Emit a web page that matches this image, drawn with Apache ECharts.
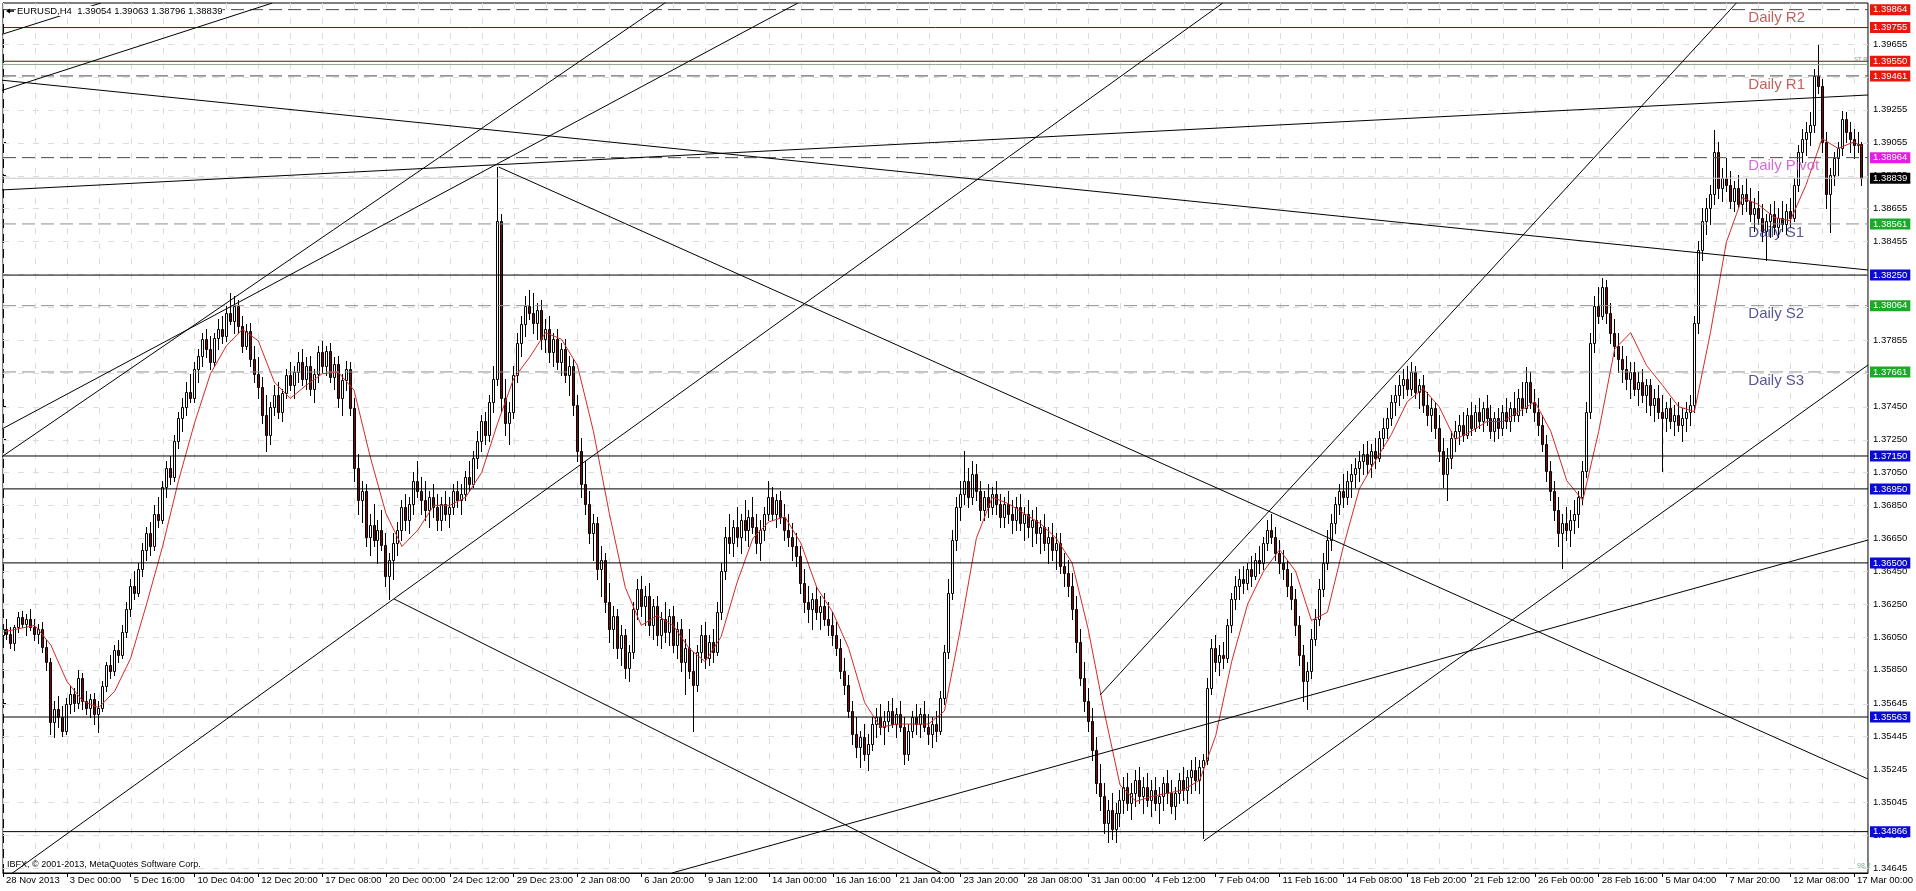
<!DOCTYPE html>
<html><head><meta charset="utf-8">
<script src="https://cdn.jsdelivr.net/npm/echarts@6/dist/echarts.min.js"></script>
<style>html,body{margin:0;padding:0;background:#fff;}#c{width:1916px;height:891px;}</style>
</head><body><div id="c"></div>
<script>
// ---------- DATA ----------
// H4 bars, [open, high, low, close] in pips above 1.3000 (1 pip = 0.0001)
const ohlc = [
[606,613,600,610],[610,616,604,607],[607,611,598,601],[601,612,597,611],[611,620,608,617],[617,621,611,613],[613,619,606,616],[616,622,609,611],
[611,616,603,607],[607,613,601,610],[610,614,596,599],[599,603,585,590],[590,592,546,553],[553,566,544,561],[561,569,550,556],[556,563,545,548],
[548,568,546,564],[564,575,559,570],[570,574,560,565],[565,585,562,580],[580,583,561,566],[566,572,558,562],[562,570,556,567],[567,571,552,558],
[558,566,547,562],[562,578,560,575],[575,590,572,588],[588,594,580,584],[584,600,582,597],[597,603,590,594],[594,612,592,608],[608,626,605,622],
[622,640,618,636],[636,645,628,632],[632,650,630,646],[646,662,642,658],[658,672,652,668],[668,675,655,660],[660,685,658,680],[680,690,672,676],
[676,700,674,696],[696,712,690,708],[708,715,698,702],[702,728,700,724],[724,742,720,738],[738,750,730,745],[745,760,740,754],[754,765,748,750],
[750,772,748,768],[768,780,760,776],[776,790,770,786],[786,792,775,780],[780,788,768,772],[772,790,770,787],[787,798,780,792],[792,800,784,788],
[788,806,785,802],[802,814,795,797],[797,812,790,806],[806,810,790,794],[794,800,778,782],[782,795,780,791],[791,796,770,774],[774,782,760,765],
[765,775,750,757],[757,763,735,740],[740,752,718,728],[728,748,722,745],[745,758,740,752],[752,760,738,742],[742,756,736,753],[753,768,750,764],
[764,772,755,758],[758,770,750,766],[766,778,760,772],[772,780,758,762],[762,775,756,770],[770,776,752,756],[756,768,748,765],[765,782,760,778],
[778,785,766,770],[770,782,764,779],[779,784,760,763],[763,775,756,771],[771,776,745,750],[750,765,740,761],[761,773,755,768],[768,772,740,744],
[744,750,700,708],[708,716,680,688],[688,700,675,694],[694,698,660,666],[666,680,655,673],[673,686,660,664],[664,676,650,670],[670,682,658,661],
[661,668,636,642],[642,656,628,652],[652,668,640,662],[662,675,655,670],[670,688,664,684],[684,692,670,676],[676,690,668,686],[686,705,680,700],
[700,712,690,694],[694,702,680,688],[688,700,676,682],[682,694,672,690],[690,698,678,684],[684,692,670,676],[676,690,670,686],[686,694,676,680],
[680,690,672,684],[684,698,680,694],[694,700,684,688],[688,698,680,692],[692,706,688,702],[702,712,694,698],[698,718,696,714],[714,730,708,724],
[724,740,718,736],[736,742,722,728],[728,752,724,748],[748,770,742,762],[762,891,758,858],[858,862,742,750],[750,762,728,735],[735,748,722,742],
[742,770,738,764],[764,790,760,784],[784,800,776,795],[795,812,788,806],[806,816,798,802],[802,814,790,796],[796,808,786,804],[804,810,780,786],
[786,798,778,792],[792,800,772,778],[778,790,770,786],[786,792,768,772],[772,784,764,780],[780,786,760,764],[764,776,752,770],[770,774,740,746],
[746,752,712,718],[718,726,690,698],[698,712,680,686],[686,694,662,668],[668,680,652,674],[674,678,640,646],[646,660,630,652],[652,656,620,626],
[626,638,602,610],[610,624,598,618],[618,622,592,598],[598,612,588,606],[606,610,580,586],[586,600,578,596],[596,626,592,622],[622,640,616,634],
[634,642,618,624],[624,636,612,630],[630,638,606,612],[612,628,604,624],[624,630,600,606],[606,620,598,616],[616,626,602,608],[608,622,600,618],
[618,624,596,600],[600,614,592,610],[610,616,584,590],[590,604,570,598],[598,610,580,584],[584,596,548,576],[576,600,572,596],[596,612,590,606],
[606,614,586,592],[592,606,588,602],[602,610,590,596],[596,626,594,620],[620,650,616,645],[645,672,640,666],[666,680,656,662],[662,676,654,672],
[672,684,660,666],[666,680,656,676],[676,688,664,670],[670,682,660,678],[678,690,668,672],[672,680,656,662],[662,676,652,670],[670,684,664,680],
[680,700,676,690],[690,696,676,680],[680,692,672,688],[688,694,674,678],[678,686,664,670],[670,680,660,666],[666,674,652,660],[660,668,648,654],
[654,660,632,638],[638,646,620,626],[626,636,614,622],[622,632,610,628],[628,636,616,620],[620,630,610,624],[624,632,612,616],[616,626,606,612],
[612,620,600,606],[606,614,594,598],[598,604,580,584],[584,592,570,576],[576,582,556,560],[560,566,540,546],[546,556,532,538],[538,548,526,544],
[544,552,530,534],[534,546,524,540],[540,556,536,552],[552,562,544,556],[556,564,546,550],[550,560,540,554],[554,566,548,560],[560,568,550,552],
[552,562,544,558],[558,566,548,550],[550,556,528,534],[534,552,530,548],[548,560,544,556],[556,564,546,552],[552,562,544,558],[558,566,548,550],
[550,558,540,546],[546,556,538,552],[552,560,542,548],[548,572,546,568],[568,600,564,596],[596,640,592,632],[632,670,628,664],[664,690,658,684],
[684,700,676,692],[692,718,686,700],[700,708,684,690],[690,712,686,704],[704,710,688,694],[694,700,676,682],[682,694,676,690],[690,698,678,684],
[684,696,680,692],[692,700,680,686],[686,692,672,678],[678,690,672,686],[686,694,674,680],[680,688,668,676],[676,690,670,684],[684,692,670,674],
[674,684,664,680],[680,688,666,672],[672,682,660,676],[676,684,662,668],[668,676,656,672],[672,680,658,662],[662,672,650,666],[666,674,652,658],
[658,668,646,662],[662,668,644,648],[648,656,636,644],[644,652,630,636],[636,644,616,622],[622,630,596,602],[602,610,576,580],[580,590,560,566],
[566,574,548,554],[554,562,530,536],[536,544,510,516],[516,528,500,508],[508,516,486,492],[492,506,480,500],[500,510,482,488],[488,504,480,498],
[498,512,490,506],[506,520,498,514],[514,522,500,504],[504,516,494,510],[510,524,502,518],[518,526,504,508],[508,520,498,514],[514,522,502,506],
[506,518,496,512],[512,520,500,504],[504,514,492,508],[508,520,500,516],[516,524,504,510],[510,518,498,502],[502,514,494,510],[510,522,504,518],
[518,526,506,512],[512,524,504,520],[520,530,510,524],[524,532,512,518],[518,530,510,526],[526,534,483,530],[530,580,528,574],[574,604,570,598],
[598,606,584,590],[590,600,582,594],[594,602,586,592],[592,616,590,612],[612,632,608,628],[628,642,622,636],[636,646,628,640],[640,648,632,638],
[638,650,634,646],[646,654,636,642],[642,656,640,652],[652,660,644,650],[650,666,646,662],[662,676,658,670],[670,680,662,666],[666,672,652,656],
[656,664,644,650],[650,658,640,646],[646,652,630,636],[636,644,622,628],[628,634,606,612],[612,618,588,594],[594,600,566,578],[578,590,561,584],
[584,610,580,604],[604,622,600,616],[616,640,612,634],[634,656,630,650],[650,670,646,664],[664,680,658,674],[674,690,668,686],[686,698,680,694],
[694,704,684,690],[690,706,686,700],[700,710,690,704],[704,714,696,708],[708,718,700,712],[712,722,704,716],[716,724,704,710],[710,722,702,718],
[718,726,708,714],[714,730,712,726],[726,738,720,732],[732,744,726,738],[738,752,734,748],[748,758,740,752],[752,764,746,758],[758,768,750,762],
[762,770,752,756],[756,772,752,766],[766,770,750,754],[754,762,744,758],[758,764,742,746],[746,754,734,740],[740,750,730,744],[744,748,726,732],
[732,740,712,718],[718,726,696,704],[704,720,688,714],[714,730,708,726],[726,736,718,730],[730,740,722,734],[734,742,724,728],[728,744,726,740],
[740,748,728,732],[732,746,730,742],[742,750,732,736],[736,748,730,744],[744,752,734,738],[738,746,726,730],[730,742,724,738],[738,744,726,732],
[732,746,728,742],[742,750,732,736],[736,748,730,744],[744,754,736,740],[740,756,736,750],[750,760,740,744],[744,769,742,760],[760,766,744,748],
[748,756,736,742],[742,750,728,734],[734,740,718,722],[722,728,700,706],[706,712,688,694],[694,700,676,682],[682,690,660,668],[668,680,647,674],
[674,684,664,670],[670,682,660,676],[676,688,668,680],[680,694,672,690],[690,712,686,706],[706,748,702,742],[742,790,738,784],[784,812,778,806],
[806,818,796,800],[800,823,798,818],[818,822,796,802],[802,808,784,790],[790,798,776,782],[782,790,766,774],[774,782,760,768],[768,776,756,762],
[762,772,750,766],[766,772,752,756],[756,766,746,760],[760,768,748,752],[752,762,742,758],[758,762,740,746],[746,756,736,750],[750,758,738,742],
[742,752,706,738],[738,748,730,744],[744,750,732,736],[736,746,728,740],[740,748,730,734],[734,744,724,738],[738,748,730,742],[742,752,734,746],
[746,800,742,796],[796,846,790,840],[840,866,834,858],[858,872,850,866],[866,880,856,874],[874,913,868,900],[900,906,872,878],[878,890,870,884],
[884,896,876,880],[880,888,866,870],[870,882,864,878],[878,886,866,868],[868,880,862,874],[874,884,864,870],[870,878,858,862],[862,872,852,866],
[866,876,856,860],[860,868,846,852],[852,862,834,858],[858,868,848,862],[862,870,850,854],[854,866,848,860],[860,870,852,856],[856,868,850,864],
[864,872,854,860],[860,884,858,880],[880,904,876,900],[900,914,894,908],[908,918,898,912],[912,924,904,916],[916,950,912,946],[946,965,936,940],
[940,944,900,906],[906,912,866,874],[874,890,851,886],[886,900,880,896],[896,906,886,902],[902,925,898,920],[920,924,906,912],[912,918,900,908],
[908,914,896,904],[904,912,900,905],[905,906,880,884]
];
// moving average (red line): [bar, pips above 1.3000]
const maPoints = [[0,608],[4,610],[8,612],[12,600],[16,578],[20,566],[24,562],[28,572],[32,592],[36,625],[40,660],[44,700],[48,735],[52,765],[56,782],[60,792],[64,785],[68,760],[72,750],[76,758],[80,765],[84,766],[88,755],[92,715],[96,680],[100,660],[104,670],[108,685],[112,685],[116,690],[120,705],[124,735],[128,762],[132,775],[136,790],[140,786],[144,770],[148,730],[152,680],[156,635],[160,612],[164,618],[168,612],[172,598],[176,590],[180,605],[184,638],[188,665],[192,675],[196,678],[200,662],[204,635],[208,620],[212,598],[216,565],[220,550],[224,552],[228,552],[232,552],[236,560],[240,610],[244,665],[248,690],[252,686],[256,680],[260,674],[264,665],[268,650],[272,610],[276,560],[280,515],[284,505],[288,508],[292,510],[296,512],[300,518],[304,545],[308,590],[312,625],[316,645],[320,658],[324,645],[328,615],[332,620],[336,660],[340,695],[344,712],[348,728],[352,748],[356,756],[360,745],[364,725],[368,730],[372,736],[376,736],[380,742],[384,748],[388,730],[392,700],[396,688],[400,730],[404,780],[408,790],[412,770],[416,758],[420,745],[424,742],[428,790],[432,845],[436,872],[440,868],[444,860],[448,858],[452,880],[456,908],[460,902],[464,906],[466,903]];

// time axis tick labels (one every 16 bars)
const dateTickBars = [0,16,32,48,64,80,96,112,128,144,160,176,192,208,224,240,256,272,288,304,320,336,352,368,384,400,416,432,448,464];
const dateLabels = ['28 Nov 2013','3 Dec 00:00','5 Dec 16:00','10 Dec 04:00','12 Dec 20:00','17 Dec 08:00','20 Dec 00:00','24 Dec 12:00','29 Dec 23:00','2 Jan 08:00','6 Jan 20:00','9 Jan 12:00','14 Jan 00:00','16 Jan 16:00','21 Jan 04:00','23 Jan 20:00','28 Jan 08:00','31 Jan 00:00','4 Feb 12:00','7 Feb 04:00','11 Feb 16:00','14 Feb 08:00','18 Feb 20:00','21 Feb 12:00','26 Feb 00:00','28 Feb 16:00','5 Mar 04:00','7 Mar 20:00','12 Mar 08:00','17 Mar 00:00'];
const vGridBars = [0,8,16,24,32,40,48,56,64,72,80,88,96,104,112,120,128,136,144,152,160,168,176,184,192,200,208,216,224,232,240,248,256,264,272,280,288,296,304,312,320,328,336,344,352,360,368,376,384,392,400,408,416,424,432,440,448,456,464];
// price axis tick labels
const priceTickLabels = ['1.39655','1.39455','1.39255','1.39055','1.38855','1.38655','1.38455','1.38255','1.38055','1.37855','1.37655','1.37450','1.37250','1.37050','1.36850','1.36650','1.36450','1.36250','1.36050','1.35850','1.35645','1.35445','1.35245','1.35045','1.34845','1.34645'];

// horizontal levels and their kinds
const levelPrices = [1.39864,1.39755,1.39550,1.39530,1.39461,1.38964,1.38839,1.38561,1.38250,1.38064,1.37661,1.37150,1.36950,1.36500,1.35563,1.34866];
const levelKinds  = ['rDash','rSolid','rSolid','gSolid','rDash','pDash','bid','sDash','hLine','sDash','sDash','hLine','hLine','hLine','hLine','hLine'];
const pivotNames  = ['Daily R2','Daily R1','Daily Pivot','Daily S1','Daily S2','Daily S3'];
const pivotPrices = [1.39864,1.39461,1.38964,1.38561,1.38064,1.37661];
const pivotKinds  = ['r','r','p','s','s','s'];

// trend lines: [bar1, price1, bar2, price2]
const trendLines = [
  [-0.75,1.39710, 24.5,1.39904],
  [-0.75,1.39369, 67.5,1.39904],
  [-0.75,1.39436, 467.5,1.38281],
  [-0.75,1.38767, 467.5,1.39345],
  [-0.75,1.37138, 166.25,1.39910],
  [-0.75,1.37308, 199.25,1.39904],
  [-0.75,1.34560, 305.75,1.39904],
  [124.25,1.38907, 467.5,1.35186],
  [98,1.36281, 235.25,1.34615],
  [167.75,1.34615, 467.5,1.36639],
  [301,1.34809, 467.5,1.37703],
  [275,1.35697, 434.5,1.39904]
];
const titleText = 'EURUSD,H4  1.39054 1.39063 1.38796 1.38839';
const copyrightText = 'IBFX, \u00a9 2001-2013, MetaQuotes Software Corp.';

// ---------- CHART ----------
const BASE = 1.3, PIP = 0.0001;
const px = v => +(BASE + v * PIP).toFixed(5);
const FONT = 'Liberation Sans';
const X_MIN = 0, X_MAX = 467.5, Y_MIN = 1.346145, Y_MAX = 1.399043;
const chart = echarts.init(document.getElementById('c'), null, {renderer: 'canvas', width: 1916, height: 891});

const candleData = ohlc.map((b, i) => [i, px(b[0]), px(b[1]), px(b[2]), px(b[3])]);
const maData = maPoints.map(p => [p[0], px(p[1])]);
const priceTickVals = priceTickLabels.map(Number);

const kindStyle = {
  rDash: {line: {color: '#4a4a4a', type: [13, 6], width: 1}, tag: '#e8160e'},
  rSolid: {line: {color: '#7a0c0c', type: 'solid', width: 1}, tag: '#e8160e'},
  gSolid: {line: {color: '#94a494', type: 'solid', width: 1}, tag: null},
  pDash: {line: {color: '#4a4a4a', type: [13, 6], width: 1}, tag: '#e21ee2'},
  bid: {line: {color: '#c8c8c8', type: 'solid', width: 1}, tag: '#000000'},
  sDash: {line: {color: '#8f8f8f', type: [13, 6], width: 1}, tag: '#1ea82a'},
  hLine: {line: {color: '#000000', type: 'solid', width: 1}, tag: '#0a0ad2'}
};
const pivotColor = {r: '#b23a36', p: '#c848c8', s: '#2c2c7c'};

const series = [];
// grid (horizontal at price ticks, vertical every 8 bars)
series.push({
  type: 'custom', z: 1, silent: true, clip: true,
  data: priceTickVals.map(v => [X_MIN, v]),
  renderItem: (params, api) => {
    const cs = params.coordSys;
    const y = Math.round(api.coord([X_MIN, api.value(1)])[1]) + 0.5;
    return {type: 'line', shape: {x1: cs.x, y1: y, x2: cs.x + cs.width, y2: y}, style: {stroke: '#dcdcdc', lineWidth: 1, lineDash: [6, 9]}};
  }
});
series.push({
  type: 'custom', z: 1, silent: true, clip: true,
  data: vGridBars.map(b => [b, Y_MIN]),
  renderItem: (params, api) => {
    const cs = params.coordSys;
    const x = Math.round(api.coord([api.value(0), Y_MIN])[0]) + 0.5;
    return {type: 'line', shape: {x1: x, y1: cs.y, x2: x, y2: cs.y + cs.height}, style: {stroke: '#dcdcdc', lineWidth: 1, lineDash: [6, 9]}};
  }
});
// candles
series.push({
  type: 'custom', name: 'candles', z: 3, clip: true, silent: true,
  encode: {x: 0, y: [1, 2, 3, 4]},
  data: candleData,
  renderItem: (params, api) => {
    const i = api.value(0);
    const o = api.value(1), h = api.value(2), l = api.value(3), c = api.value(4);
    const po = api.coord([i, o]), ph = api.coord([i, h]), pl = api.coord([i, l]), pc = api.coord([i, c]);
    const cx = Math.floor(po[0]);
    const yt = Math.round(Math.min(po[1], pc[1])), yb = Math.round(Math.max(po[1], pc[1]));
    const ch = [{type: 'line', shape: {x1: cx + 0.5, y1: Math.round(ph[1]), x2: cx + 0.5, y2: Math.round(pl[1]) + 1},
      style: {stroke: '#000', lineWidth: 1}}];
    if (yb - yt >= 1) {
      ch.push({type: 'rect', shape: {x: cx - 0.5, y: yt + 0.5, width: 2, height: yb - yt},
        style: {fill: c >= o ? '#ffffff' : '#7a0a0a', stroke: '#000', lineWidth: 1}});
    } else {
      ch.push({type: 'line', shape: {x1: cx - 1, y1: yt + 0.5, x2: cx + 2, y2: yt + 0.5}, style: {stroke: '#000', lineWidth: 1}});
    }
    return {type: 'group', children: ch};
  }
});
// moving average
series.push({
  type: 'line', name: 'ma', data: maData, z: 4, showSymbol: false, silent: true,
  lineStyle: {color: '#d42a2a', width: 1}
});
// horizontal levels with price tags
levelPrices.forEach((p, i) => {
  const st = kindStyle[levelKinds[i]];
  series.push({
    type: 'line', z: 5, silent: true, showSymbol: false, clip: false,
    data: [[X_MIN, p], [X_MAX, p]],
    lineStyle: st.line,
    endLabel: st.tag ? {
      show: true, formatter: p.toFixed(5), distance: 2,
      color: '#ffffff', backgroundColor: st.tag, padding: [1, 3, 0, 3],
      fontFamily: FONT, fontSize: 9.5, lineHeight: 10
    } : {show: false}
  });
});
// trend lines
trendLines.forEach(t => series.push({
  type: 'line', data: [[t[0], t[1]], [t[2], t[3]]], z: 5, silent: true, showSymbol: false, clip: true,
  lineStyle: {color: '#000', width: 1}
}));
// pivot names
series.push({
  type: 'scatter', z: 6, silent: true, symbolSize: 0,
  data: pivotNames.map((n, i) => ({name: n, value: [437.5, pivotPrices[i]],
    label: {color: pivotColor[pivotKinds[i]]}})),
  label: {show: true, formatter: '{b}', position: [0, 1], align: 'left', verticalAlign: 'top',
    fontFamily: FONT, fontSize: 15}
});

chart.setOption({
  animation: false,
  backgroundColor: '#ffffff',
  textStyle: {fontFamily: FONT},
  grid: {left: 3, right: 43, top: 3, bottom: 18, show: true, borderColor: '#000', borderWidth: 1, backgroundColor: 'transparent'},
  xAxis: {
    type: 'value', min: X_MIN, max: X_MAX,
    axisLine: {show: true, lineStyle: {color: '#000'}},
    axisTick: {show: true, customValues: dateTickBars, length: 4, lineStyle: {color: '#000'}},
    axisLabel: {show: true, customValues: dateTickBars, formatter: v => dateLabels[dateTickBars.indexOf(v)] || '',
      align: 'left', padding: [0, 0, 0, 3], margin: 2, fontFamily: FONT, fontSize: 9.5, color: '#000'},
    splitLine: {show: false}
  },
  yAxis: {
    type: 'value', position: 'right', min: Y_MIN, max: Y_MAX, scale: true,
    axisLine: {show: true, lineStyle: {color: '#000'}},
    axisTick: {show: true, customValues: priceTickVals, length: 3, lineStyle: {color: '#000'}},
    axisLabel: {show: true, customValues: priceTickVals, formatter: v => priceTickLabels[priceTickVals.indexOf(v)] || v.toFixed(5),
      margin: 5, fontFamily: FONT, fontSize: 9.5, color: '#000'},
    splitLine: {show: false}
  },
  graphic: [
    {type: 'text', left: 17, top: 6, z: 100, style: {text: titleText, font: '9.5px "Liberation Sans"', fill: '#000', backgroundColor: '#fff'}},
    {type: 'polygon', z: 100, shape: {points: [[6, 11], [10, 8.5], [10, 13.5]]}, style: {fill: '#000'}},
    {type: 'line', z: 100, shape: {x1: 9, y1: 11, x2: 14, y2: 11}, style: {stroke: '#000', lineWidth: 1.5}},
    {type: 'text', left: 7, top: 860, z: 100, style: {text: copyrightText, font: '9px "Liberation Sans"', fill: '#000'}},
    {type: 'text', left: 1854, top: 56, z: 100, style: {text: 'ST R', font: '6px "Liberation Sans"', fill: '#8a9a8a'}},
    {type: 'text', left: 1857, top: 863, z: 100, style: {text: '98.2', font: '7px "Liberation Sans"', fill: '#7aa890'}}
  ],
  series: series
});
</script>
</body></html>
